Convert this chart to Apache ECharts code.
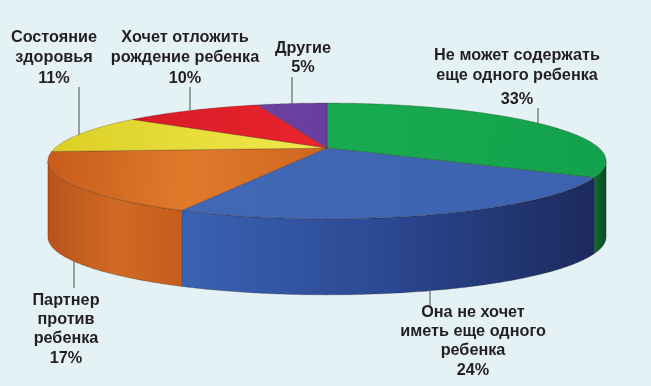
<!DOCTYPE html>
<html><head><meta charset="utf-8">
<script src="https://cdn.jsdelivr.net/npm/echarts@6/dist/echarts.min.js"></script>
<style>html,body{margin:0;padding:0;background:#e4f2f5}#c{width:651px;height:386px}</style>
</head><body><div id="c"></div>
<script>
// ---- data ----
const categories = [
  'Не может содержать\nеще одного ребенка',
  'Она не хочет\nиметь еще одного\nребенка',
  'Партнер\nпротив\nребенка',
  'Состояние\nздоровья',
  'Хочет отложить\nрождение ребенка',
  'Другие'
];
const shares = [33, 24, 17, 11, 10, 5];

// ---- styles / layout ----
const topColors = [
  ['#19ab52', '#12a24b'],
  ['#4169b6', '#3c62b0'],
  ['#c75c1b', '#e07a2b', '#cf6520'],
  ['#dccf25', '#f1ea4f'],
  ['#d71b25', '#ea252e'],
  ['#6b40a2', '#6a3e9e']
];
const sideColors = [
  ['#0e6e33', '#074a20'],
  ['#3b62b3', '#2b4892', '#1c2a5c'],
  ['#b9521a', '#d06a24', '#c45d1c'],
  ['#b8ae1c', '#9a9015'],
  ['#b5161f', '#8f1018'],
  ['#4e2d7a', '#3c2260']
];
// label: x centre, y of first line centre, line height, y of percent line, leader x, leader end y near label
const labelLayout = [
  { x: 517, y: 55, lh: 20.5, py: 99, lx: 538, ly: 108, front: false },
  { x: 473, y: 312, lh: 19.3, py: 370, lx: 430, ly: 306, front: true },
  { x: 66, y: 300, lh: 19.3, py: 358, lx: 74, ly: 288, front: true },
  { x: 54, y: 37, lh: 20.5, py: 78, lx: 79, ly: 87, front: false },
  { x: 185, y: 37, lh: 20.5, py: 78, lx: 190, ly: 87, front: false },
  { x: 303, y: 48, lh: 20.5, py: 67, lx: 292, ly: 77, front: false }
];

const CX = 327, CY = 148, RX = 272, RY = 55, P = 0.224, H = 76;
function proj(t, dz) {
  const s = Math.sin(t), c = Math.cos(t), d = 1 - P * s;
  return [CX + RX * c / d, CY + RY * s / d + (dz || 0)];
}
function arc(t0, t1, dz) {
  const n = Math.max(2, Math.ceil(Math.abs(t1 - t0) / 0.01));
  const pts = [];
  for (let i = 0; i <= n; i++) pts.push(proj(t0 + (t1 - t0) * i / n, dz));
  return pts;
}
const TMIN = Math.asin(P), TMAX = Math.PI - Math.asin(P);

function stops(cols) {
  return cols.map((c, i) => ({ offset: cols.length === 1 ? 0 : i / (cols.length - 1), color: c }));
}
function rimY(x, front) {
  let best = null, bd = 1e9;
  const a0 = front ? TMIN : Math.PI, a1 = front ? TMAX : 2 * Math.PI;
  for (let i = 0; i <= 2000; i++) {
    const t = a0 + (a1 - a0) * i / 2000;
    const p = proj(t, front ? H : 0);
    const d = Math.abs(p[0] - x);
    if (d < bd) { bd = d; best = p[1]; }
  }
  return best;
}

const FONT = 'bold 17px "Liberation Sans", Arial, sans-serif';
const SX = 0.955;
const chart = echarts.init(document.getElementById('c'), null, { renderer: 'canvas' });

function renderItem(params, api) {
  const idx = params.dataIndex;
  const total = shares.reduce((a, b) => a + b, 0);
  let start = -Math.PI / 2;
  for (let i = 0; i < idx; i++) start += shares[i] / total * 2 * Math.PI;
  const end = start + api.value(0) / total * 2 * Math.PI;
  const children = [];

  // side wall (visible front part only)
  const a = Math.max(start, TMIN), b = Math.min(end, TMAX);
  if (a < b) {
    const pts = arc(a, b, 0).concat(arc(b, a, H));
    children.push({
      type: 'polygon', z2: 1,
      shape: { points: pts },
      style: {
        fill: { type: 'linear', x: 0, y: 0, x2: 1, y2: 0, colorStops: stops(sideColors[idx]) },
        stroke: 'rgba(30,20,10,0.35)', lineWidth: 0.7
      }
    });
  }
  // top face
  const topPts = [[CX, CY]].concat(arc(start, end, 0));
  children.push({
    type: 'polygon', z2: 2,
    shape: { points: topPts },
    style: {
      fill: { type: 'linear', x: 0, y: 0, x2: 1, y2: 0.3, colorStops: stops(topColors[idx]) },
      stroke: 'rgba(40,20,10,0.35)', lineWidth: 0.7
    }
  });

  // leader + label
  const L = labelLayout[idx];
  children.push({
    type: 'line', z2: 3,
    shape: { x1: L.lx, y1: L.ly, x2: L.lx, y2: rimY(L.lx, L.front) },
    style: { stroke: '#4a4a4a', lineWidth: 1 }
  });
  children.push({
    type: 'text', z2: 4,
    x: L.x, y: L.y - L.lh / 2, scaleX: SX,
    style: {
      text: api.value(1),
      x: 0, y: 0,
      align: 'center', verticalAlign: 'top',
      font: FONT, lineHeight: L.lh, fill: '#231f20'
    }
  });
  children.push({
    type: 'text', z2: 4,
    x: L.x, y: L.py, scaleX: SX,
    style: {
      text: api.value(0) + '%',
      x: 0, y: 0,
      align: 'center', verticalAlign: 'middle',
      font: FONT, fill: '#231f20'
    }
  });
  return { type: 'group', children };
}

chart.setOption({
  backgroundColor: '#e4f2f5',
  animation: false,
  series: [{
    type: 'custom',
    coordinateSystem: 'none',
    renderItem: renderItem,
    dimensions: ['value', 'name'],
    data: shares.map((v, i) => [v, categories[i]])
  }]
});
</script>
</body></html>
